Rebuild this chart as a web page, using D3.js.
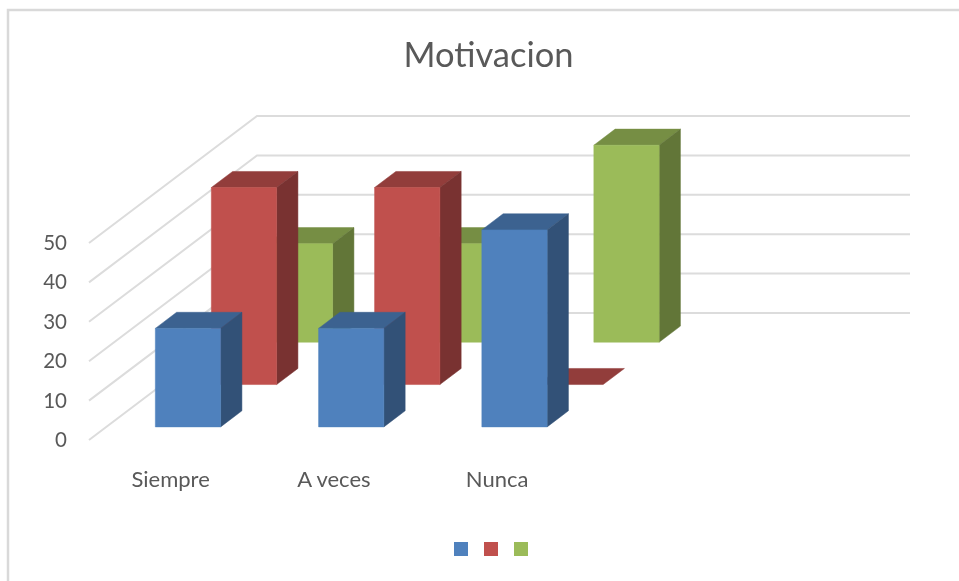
<!DOCTYPE html>
<html>
<head>
<meta charset="utf-8">
<script src="https://cdn.jsdelivr.net/npm/d3@7"></script>
<style>
    html, body { margin: 0; padding: 0; background: #fff; }
    svg { display: block; filter: blur(0.5px); }
    text { font-family: Lato, "Noto Sans", sans-serif; fill: #595959; }
    .axis text { font-size: 20.5px; }
    .axis--x text { font-size: 22px; }
    .axis path, .axis line { display: none; }
</style>
</head>
<body>
<svg width="959" height="581"></svg>
<script>
var title = "Motivacion";
var categories = ["Siempre", "A veces", "Nunca", " "];
var seriesNames = ["Serie 1", "Serie 2", "Serie 3"];
var serie1 = [25, 25, 50, 0];
var serie2 = [50, 50, 0, 0];
var serie3 = [25, 25, 50, 0];
var yTicks = [0, 10, 20, 30, 40, 50];
var colors = ["#4f81bd", "#c0504d", "#9bbb59"];

var svg = d3.select("svg"),
    width = +svg.attr("width"),
    height = +svg.attr("height");

var allSeries = [serie1, serie2, serie3];

// front left corner of the floor and how far the depth axis runs
var floorLeft = 89,
    floorRight = 742,
    wallRight = 910,
    depthX = 168,
    depthY = -127;

var x = d3.scaleBand().domain(categories).range([floorLeft, floorRight]).paddingInner(0.6).paddingOuter(0.3),
    y = d3.scaleLinear().domain([0, 50]).range([440, 243]),
    z = d3.scaleBand().domain(seriesNames).range([0, 1]).paddingInner(0.62).paddingOuter(0.31);

function project(px, value, depth) {
    return [px + depth * depthX, y(value) + depth * depthY];
}

function shade(color, k) {
    var c = d3.rgb(color);
    return d3.rgb(c.r * k, c.g * k, c.b * k).formatHex();
}

// chart frame, only the left and top edges are in the picture
svg.append("path")
    .attr("d", "M8,581V10H959")
    .attr("fill", "none")
    .attr("stroke", "#d9d9d9")
    .attr("stroke-width", 2.5);

svg.append("text")
    .attr("x", 488.5)
    .attr("y", 67)
    .attr("text-anchor", "middle")
    .style("font-size", "34.5px")
    .text(title);

// gridlines: side wall then back wall
var line = d3.line();
svg.append("g").selectAll("path")
    .data(yTicks)
    .enter().append("path")
    .attr("d", function (d) {
        return line([
            project(floorLeft, d, 0),
            project(floorLeft, d, 1),
            [wallRight, project(floorLeft, d, 1)[1]]
        ]);
    })
    .attr("fill", "none")
    .attr("stroke", "#dcdcdc")
    .attr("stroke-width", 2);

function face(g, points, fill) {
    g.append("path")
        .attr("d", line(points) + "Z")
        .attr("fill", fill)
        .attr("stroke", fill)
        .attr("stroke-width", 0.5);
}

// back rows first so the front rows cover them
var bars = svg.append("g");
d3.range(allSeries.length - 1, -1, -1).forEach(function (s) {
    var d0 = z(seriesNames[s]),
        d1 = d0 + z.bandwidth();

    categories.forEach(function (c, i) {
        var v = allSeries[s][i];
        if (i === 3) return;

        var xl = x(c),
            xr = xl + x.bandwidth();
        var g = bars.append("g");

        face(g, [project(xl, v, d0), project(xr, v, d0), project(xr, v, d1), project(xl, v, d1)], shade(colors[s], 0.76));
        if (v > 0) {
            face(g, [project(xr, 0, d0), project(xr, v, d0), project(xr, v, d1), project(xr, 0, d1)], shade(colors[s], 0.63));
            face(g, [project(xl, 0, d0), project(xr, 0, d0), project(xr, v, d0), project(xl, v, d0)], colors[s]);
        }
    });
});

// y axis labels
svg.append("g")
    .attr("class", "axis axis--y")
    .attr("transform", "translate(67,0)")
    .call(d3.axisLeft(y).tickValues(yTicks).tickSize(0).tickPadding(0));

// category labels
svg.append("g")
    .attr("class", "axis axis--x")
    .attr("transform", "translate(0,471)")
    .call(d3.axisBottom(x).tickSize(0).tickPadding(0));

// legend has no text in the picture, only the swatches
var legendX = d3.scalePoint().domain(seriesNames).range([454, 514]);
svg.append("g").selectAll("rect")
    .data(seriesNames)
    .enter().append("rect")
    .attr("x", function (d) { return legendX(d); })
    .attr("y", 542)
    .attr("width", 14)
    .attr("height", 14)
    .attr("fill", function (d, i) { return colors[i]; });
</script>
</body>
</html>
